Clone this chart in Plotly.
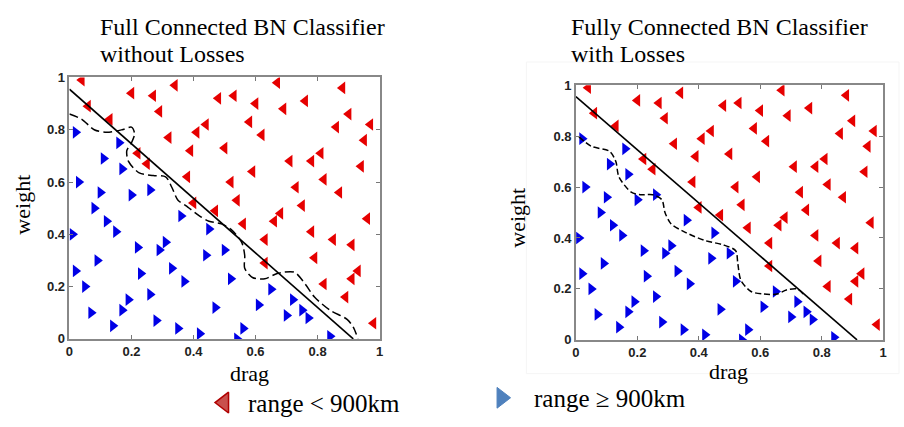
import plotly.graph_objects as go

# --- sample points (drag, weight) ---
short_drag = [0.04, 0.06, 0.13, 0.20, 0.27, 0.34, 0.29, 0.32, 0.22, 0.25, 0.38, 0.39, 0.41, 0.44,
              0.48, 0.53, 0.50, 0.58, 0.60, 0.62, 0.67, 0.69, 0.76, 0.88, 0.90, 0.97, 0.86, 0.95,
              0.81, 0.78, 0.71, 0.94, 0.82, 0.59, 0.52, 0.73, 0.87, 0.54, 0.40, 0.47, 0.75, 0.68,
              0.66, 0.56, 0.96, 0.78, 0.63, 0.85, 0.91, 0.79, 0.63, 0.93, 0.91, 0.82, 0.89, 0.98]
short_weight = [0.99, 0.89, 0.84, 0.94, 0.93, 0.97, 0.87, 0.77, 0.71, 0.67, 0.62, 0.72, 0.79, 0.82,
                0.92, 0.93, 0.73, 0.83, 0.90, 0.78, 0.98, 0.88, 0.91, 0.96, 0.86, 0.82, 0.81, 0.76,
                0.71, 0.68, 0.68, 0.66, 0.61, 0.64, 0.60, 0.58, 0.56, 0.53, 0.52, 0.49, 0.51, 0.48,
                0.45, 0.44, 0.46, 0.41, 0.38, 0.38, 0.36, 0.31, 0.29, 0.26, 0.23, 0.21, 0.16, 0.06]

long_drag = [0.02, 0.16, 0.11, 0.17, 0.03, 0.26, 0.10, 0.20, 0.08, 0.36, 0.12, 0.15, 0.45, 0.01,
             0.31, 0.22, 0.29, 0.50, 0.44, 0.09, 0.33, 0.02, 0.23, 0.52, 0.37, 0.05, 0.65, 0.26,
             0.19, 0.72, 0.17, 0.47, 0.61, 0.07, 0.75, 0.70, 0.77, 0.28, 0.14, 0.35, 0.42, 0.56,
             0.54, 0.84]
long_weight = [0.79, 0.75, 0.69, 0.65, 0.60, 0.57, 0.56, 0.55, 0.50, 0.47, 0.45, 0.41, 0.42, 0.40,
               0.37, 0.35, 0.34, 0.34, 0.32, 0.30, 0.27, 0.26, 0.25, 0.23, 0.22, 0.20, 0.19, 0.17,
               0.15, 0.15, 0.11, 0.12, 0.13, 0.10, 0.11, 0.09, 0.08, 0.07, 0.05, 0.04, 0.02, 0.04,
               0.00, 0.01]

# --- decision boundaries ---
linear_x = [0.0, 0.915]
linear_y = [0.955, 0.0]

bn_plain_x = [0.0, 0.04, 0.08, 0.12, 0.17, 0.20, 0.21, 0.20, 0.185, 0.19, 0.225, 0.27, 0.31, 0.33,
              0.35, 0.375, 0.42, 0.45, 0.49, 0.52, 0.555, 0.565, 0.565, 0.59, 0.63, 0.67, 0.725,
              0.76, 0.79, 0.84, 0.895, 0.915, 0.93]
bn_plain_y = [0.86, 0.84, 0.80, 0.79, 0.80, 0.81, 0.785, 0.75, 0.72, 0.68, 0.635, 0.625, 0.62, 0.58,
              0.53, 0.51, 0.47, 0.45, 0.44, 0.42, 0.37, 0.32, 0.27, 0.235, 0.23, 0.25, 0.255,
              0.21, 0.16, 0.11, 0.075, 0.045, 0.0]

bn_loss_x = [0.01, 0.05, 0.11, 0.13, 0.14, 0.18, 0.21, 0.25, 0.28, 0.29, 0.31, 0.36, 0.42, 0.48,
             0.52, 0.527, 0.537, 0.57, 0.61, 0.655, 0.685, 0.72, 0.74]
bn_loss_y = [0.797, 0.76, 0.74, 0.70, 0.64, 0.58, 0.57, 0.57, 0.55, 0.50, 0.455, 0.42, 0.39, 0.373,
             0.35, 0.30, 0.234, 0.19, 0.18, 0.18, 0.196, 0.20, 0.18]

tick_vals = [0, 0.2, 0.4, 0.6, 0.8, 1]
tick_text = ["0", "0.2", "0.4", "0.6", "0.8", "1"]

legend_labels = ["range < 900km", "range \u2265 900km"]
panel_titles = [("Full Connected BN Classifier", "without Losses"),
                ("Fully Connected BN Classifier", "with Losses")]

W, H = 904, 427
SERIF = "Liberation Serif, Times New Roman, serif"
RED, BLUE = "#e60000", "#0000e6"

fig = go.Figure()

panels = [
    ("x", "y", bn_plain_x, bn_plain_y, "9px,4px"),
    ("x2", "y2", bn_loss_x, bn_loss_y, "6px,3px"),
]
for xa, ya, bx, by, dash in panels:
    fig.add_trace(go.Scatter(x=short_drag, y=short_weight, mode="markers", xaxis=xa, yaxis=ya,
                             marker=dict(symbol="triangle-left", size=11, color=RED),
                             showlegend=False, hoverinfo="skip"))
    fig.add_trace(go.Scatter(x=long_drag, y=long_weight, mode="markers", xaxis=xa, yaxis=ya,
                             marker=dict(symbol="triangle-right", size=11, color=BLUE),
                             showlegend=False, hoverinfo="skip"))
    fig.add_trace(go.Scatter(x=linear_x, y=linear_y, mode="lines", xaxis=xa, yaxis=ya,
                             line=dict(color="black", width=1.6),
                             showlegend=False, hoverinfo="skip"))
    fig.add_trace(go.Scatter(x=bx, y=by, mode="lines", xaxis=xa, yaxis=ya,
                             line=dict(color="black", width=1.5, dash=dash, shape="spline",
                                       smoothing=0.8),
                             showlegend=False, hoverinfo="skip"))

# legend key markers on a pixel-space overlay axis
fig.add_trace(go.Scatter(x=[222], y=[410], mode="markers", xaxis="x3", yaxis="y3",
                         marker=dict(symbol="triangle-left", size=18, color="#c9504d",
                                     line=dict(color="#b00000", width=1.5)),
                         showlegend=False, hoverinfo="skip", cliponaxis=False))
fig.add_trace(go.Scatter(x=[502], y=[405], mode="markers", xaxis="x3", yaxis="y3",
                         marker=dict(symbol="triangle-right", size=18, color="#4f81bd",
                                     line=dict(color="#4f81bd", width=1)),
                         showlegend=False, hoverinfo="skip", cliponaxis=False))

axis_common = dict(range=[0, 1], tickvals=tick_vals, ticktext=tick_text, ticks="inside",
                   ticklen=4, tickcolor="#777", showline=True, linecolor="#888", linewidth=1.5,
                   mirror="ticks", showgrid=False, zeroline=False,
                   tickfont=dict(family="Liberation Sans, Arial", size=13, color="#222",
                                 weight="bold"))

def px_x(p):
    return p / W

def px_y(p):
    return 1 - p / H

fig.update_layout(
    width=W, height=H, margin=dict(l=0, r=0, t=0, b=0),
    paper_bgcolor="white", plot_bgcolor="rgba(0,0,0,0)",
    xaxis=dict(domain=[px_x(66), px_x(379)], anchor="y", **axis_common),
    yaxis=dict(domain=[px_y(344), px_y(73)], anchor="x", **axis_common),
    xaxis2=dict(domain=[px_x(577), px_x(887)], anchor="y2", **axis_common),
    yaxis2=dict(domain=[px_y(345), px_y(81)], anchor="x2", **axis_common),
    xaxis3=dict(domain=[0, 1], range=[0, W], visible=False, fixedrange=True, anchor="y3"),
    yaxis3=dict(domain=[0, 1], range=[H, 0], visible=False, fixedrange=True, anchor="x3"),
)

# faint frame around the second panel
fig.add_shape(type="rect", xref="paper", yref="paper", x0=px_x(527), x1=px_x(903),
              y0=px_y(380), y1=px_y(57), line=dict(color="#f5f5f5", width=1), layer="below")

title_font = dict(family=SERIF, size=24, color="black")
label_font = dict(family=SERIF, size=22, color="black")
legend_font = dict(family=SERIF, size=25, color="black")

annotations = []
for left, (line1, line2) in zip([97, 572], panel_titles):
    annotations.append(dict(x=px_x(left - 2), y=px_y(21), text=line1, xanchor="left",
                            yanchor="middle", font=title_font))
    annotations.append(dict(x=px_x(left - 2), y=px_y(49), text=line2, xanchor="left",
                            yanchor="middle", font=title_font))
annotations += [
    dict(x=px_x(19), y=px_y(205), text="weight", textangle=-90, xanchor="center", yanchor="middle",
         font=label_font),
    dict(x=px_x(518), y=px_y(218), text="weight", textangle=-90, xanchor="center", yanchor="middle",
         font=label_font),
    dict(x=px_x(248), y=px_y(380), text="drag", xanchor="center", yanchor="middle",
         font=label_font),
    dict(x=px_x(731), y=px_y(378), text="drag", xanchor="center", yanchor="middle",
         font=label_font),
    dict(x=px_x(244), y=px_y(411), text=legend_labels[0], xanchor="left", yanchor="middle",
         font=legend_font),
    dict(x=px_x(533), y=px_y(406), text=legend_labels[1], xanchor="left", yanchor="middle",
         font=legend_font),
]
for a in annotations:
    a.update(xref="paper", yref="paper", showarrow=False)
fig.update_layout(annotations=annotations)

fig.write_html("out.html")
